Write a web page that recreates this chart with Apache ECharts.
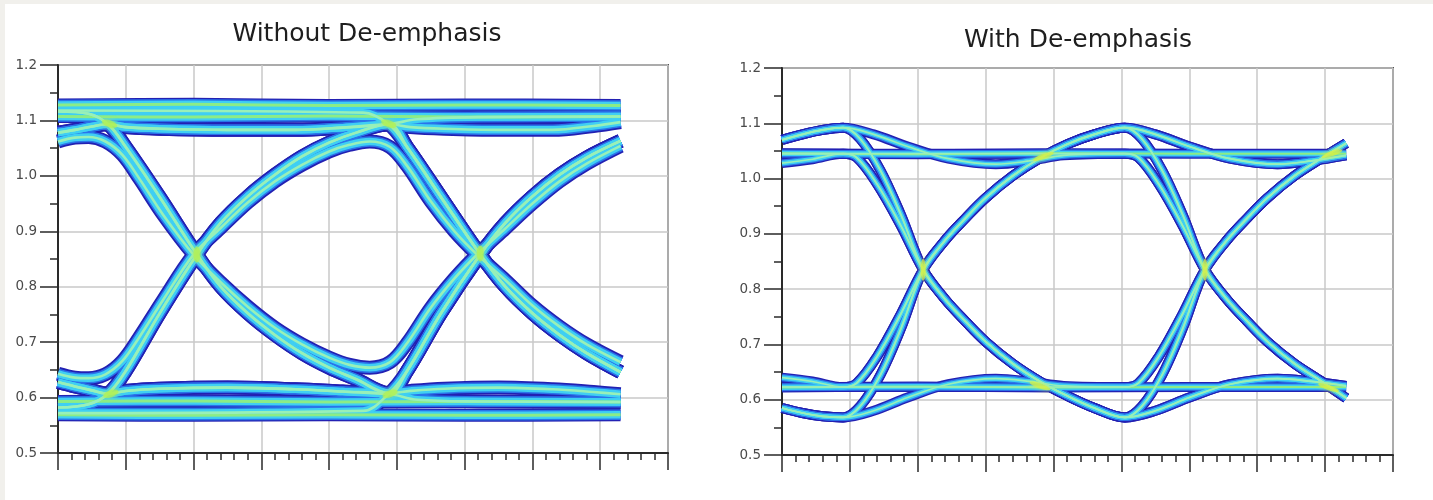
<!DOCTYPE html>
<html><head><meta charset="utf-8">
<script src="https://cdn.jsdelivr.net/npm/echarts@6/dist/echarts.min.js"></script>
<style>
html,body{margin:0;padding:0;background:#f1f0ec;width:1433px;height:500px;overflow:hidden}
#panel{position:absolute;left:5px;top:4px;right:0;bottom:0;background:#fff}
#c{position:absolute;left:0;top:0;width:1433px;height:500px}
</style></head>
<body><div id="panel"></div><div id="c"></div>
<script>
// ---------- titles / ticks ----------
const titles = ['Without De-emphasis', 'With De-emphasis'];
const yTicks = [0.5, 0.6, 0.7, 0.8, 0.9, 1.0, 1.1, 1.2];

// ---------- LEFT: Without De-emphasis (x in grid divisions, y in V) ----------
const L_hiA = [[0,1.128],[2,1.129],[4,1.127],[6,1.128],[8.3,1.127]];
const L_hiB = [[0,1.107],[2,1.106],[4,1.108],[6,1.106],[8.3,1.107]];
const L_loA = [[0,0.593],[2,0.594],[4,0.592],[6,0.593],[8.3,0.592]];
const L_loB = [[0,0.569],[2,0.568],[4,0.569],[6,0.568],[8.3,0.569]];
// before first transition
const L_preH = [[0,1.116],[0.45,1.112]];
const L_preL = [[0,0.582],[0.45,0.588]];
const L_preRise = [[0,1.078],[0.25,1.083],[0.5,1.089]];
const L_preFall = [[0,0.628],[0.25,0.620],[0.5,0.613]];
const L_preArcH = [[0,1.062],[0.25,1.069],[0.45,1.070]];
const L_preArcL = [[0,0.643],[0.25,0.636],[0.45,0.635]];
// first bit
const L_fall1 = [[0.74,1.093],[1.0,1.052],[1.5,0.962],[2.05,0.858],[2.4,0.800],[2.8,0.752],[3.2,0.713],[3.6,0.680],[4.0,0.654],[4.4,0.633],[4.88,0.608]];
const L_rise1 = [[0.74,0.607],[1.0,0.648],[1.5,0.752],[2.05,0.858],[2.4,0.915],[2.8,0.963],[3.2,1.002],[3.6,1.035],[4.0,1.060],[4.4,1.078],[4.88,1.093]];
const L_sag1 = [[0.74,1.093],[1.0,1.088],[1.5,1.085],[2.5,1.083],[3.5,1.083],[4.2,1.087],[4.88,1.093]];
const L_hump1 = [[0.74,0.607],[1.0,0.612],[1.5,0.616],[2.5,0.618],[3.5,0.615],[4.2,0.611],[4.88,0.607]];
const L_arcFall1 = [[0.7,1.062],[0.95,1.038],[1.2,0.995],[1.55,0.930],[2.0,0.858],[2.4,0.808],[2.8,0.764],[3.2,0.726],[3.6,0.696],[4.0,0.672],[4.3,0.659],[4.6,0.654]];
const L_arcRise1 = [[0.7,0.642],[0.95,0.666],[1.2,0.709],[1.55,0.776],[2.0,0.858],[2.4,0.906],[2.8,0.952],[3.2,0.990],[3.6,1.020],[4.0,1.044],[4.3,1.056],[4.6,1.062]];
const L_holdH = [[0,1.118],[4.5,1.114],[4.88,1.093]];
const L_holdL = [[0,0.572],[4.5,0.576],[4.88,0.607]];
// second bit
const L_fall2 = [[5.15,1.052],[5.65,0.962],[6.23,0.858],[6.6,0.800],[7.0,0.752],[7.4,0.713],[7.8,0.680],[8.3,0.646]];
const L_rise2 = [[5.15,0.648],[5.65,0.752],[6.23,0.858],[6.6,0.915],[7.0,0.963],[7.4,1.002],[7.8,1.033],[8.3,1.063]];
const L_sag2 = [[5.2,1.088],[5.7,1.085],[6.5,1.083],[7.3,1.083],[7.9,1.090],[8.3,1.097]];
const L_hump2 = [[5.2,0.612],[5.7,0.616],[6.5,0.618],[7.3,0.615],[7.9,0.610],[8.3,0.606]];
const L_arcUp2 = [[4.9,0.664],[5.15,0.698],[5.5,0.762],[5.85,0.815],[6.2,0.860],[6.6,0.905],[7.0,0.950],[7.4,0.990],[7.8,1.022],[8.3,1.054]];
const L_arcDown2 = [[4.9,1.052],[5.15,1.018],[5.5,0.954],[5.85,0.900],[6.2,0.856],[6.6,0.812],[7.0,0.766],[7.4,0.728],[7.8,0.696],[8.3,0.664]];
const L_settleH2 = [[5.3,1.102],[6.2,1.106],[8.3,1.107]];
const L_settleL2 = [[5.3,0.596],[6.2,0.593],[8.3,0.592]];
// dense (hot) spots: [x, y, angle]
const L_hot = [[2.05,0.858,90],[6.23,0.860,90],[0.76,1.094,-20],[4.88,1.094,-20],[0.78,0.607,20],[4.9,0.607,20]];

// ---------- RIGHT: With De-emphasis ----------
const R_flatH = [[0,1.046],[2,1.044],[4,1.046],[6,1.045],[8.31,1.045]];
const R_flatL = [[0,0.622],[2,0.624],[4,0.622],[6,0.623],[8.31,0.623]];
const R_preH = [[0,1.045]];
const R_preL = [[0,0.623]];
const R_tailRise = [[0,1.070],[0.3,1.080],[0.6,1.088]];
const R_tailFall = [[0,0.585],[0.3,0.576],[0.6,0.570]];
const R_decayH0 = [[0,1.028],[0.45,1.035]];
const R_decayL0 = [[0,0.640],[0.45,0.633]];
const R_fallP1 = [[0.9,1.092],[1.15,1.072],[1.45,1.015],[1.75,0.935],[2.08,0.835],[2.4,0.782],[2.7,0.742],[3.0,0.705],[3.4,0.665],[3.8,0.633],[4.2,0.607],[4.6,0.585],[5.05,0.568]];
const R_fallF1 = [[0.9,1.045],[1.1,1.038],[1.4,0.990],[1.75,0.915],[2.08,0.835],[2.4,0.782],[2.7,0.742],[3.0,0.705],[3.4,0.665],[3.8,0.633],[4.2,0.607],[4.6,0.585],[5.05,0.568]];
const R_riseT1 = [[0.9,0.568],[1.15,0.588],[1.45,0.645],[1.75,0.728],[2.08,0.835],[2.4,0.888],[2.7,0.928],[3.0,0.965],[3.4,1.005],[3.8,1.037],[4.2,1.062],[4.6,1.080],[5.05,1.092]];
const R_riseF1 = [[0.9,0.623],[1.1,0.630],[1.4,0.678],[1.75,0.755],[2.08,0.835],[2.4,0.888],[2.7,0.928],[3.0,0.965],[3.4,1.005],[3.8,1.037],[4.2,1.062],[4.6,1.080],[5.05,1.092]];
const R_peakDecay1 = [[0.9,1.092],[1.35,1.080],[1.85,1.058],[2.45,1.036],[3.15,1.026],[3.65,1.032],[4.15,1.042],[5.05,1.045]];
const R_troughDecay1 = [[0.9,0.568],[1.35,0.580],[1.85,0.604],[2.45,0.628],[3.15,0.638],[3.65,0.633],[4.15,0.625],[5.05,0.623]];
const R_fallP2 = [[5.05,1.092],[5.3,1.072],[5.6,1.015],[5.9,0.935],[6.23,0.835],[6.55,0.782],[6.85,0.742],[7.15,0.705],[7.55,0.665],[7.95,0.633],[8.31,0.603]];
const R_fallF2 = [[5.05,1.045],[5.25,1.038],[5.55,0.990],[5.9,0.915],[6.23,0.835],[6.55,0.782],[6.85,0.742],[7.15,0.705],[7.55,0.665],[7.95,0.633],[8.31,0.603]];
const R_riseT2 = [[5.05,0.568],[5.3,0.588],[5.6,0.645],[5.9,0.728],[6.23,0.835],[6.55,0.888],[6.85,0.928],[7.15,0.965],[7.55,1.005],[7.95,1.037],[8.31,1.064]];
const R_riseF2 = [[5.05,0.623],[5.25,0.630],[5.55,0.678],[5.9,0.755],[6.23,0.835],[6.55,0.888],[6.85,0.928],[7.15,0.965],[7.55,1.005],[7.95,1.037],[8.31,1.064]];
const R_peakDecay2 = [[5.5,1.080],[6.0,1.058],[6.6,1.036],[7.3,1.026],[7.8,1.032],[8.31,1.042]];
const R_troughDecay2 = [[5.5,0.580],[6.0,0.604],[6.6,0.628],[7.3,0.638],[7.8,0.633],[8.31,0.625]];
const R_hot = [[3.85,1.040,20],[8.1,1.045,20],[3.8,0.625,-20],[8.05,0.622,-20],[2.08,0.835,90],[6.23,0.835,90]];

// ---------- build traces (waveforms) from the named pieces ----------
const cat = (...a) => [].concat(...a);
const leftTraces = [
  [L_hiA,'flat'],[L_hiB,'flat'],[L_loA,'flat'],[L_loB,'flat'],
  [cat(L_preH, L_fall1, L_hump2),'tr'],
  [cat(L_preH, L_fall1, L_rise2),'tr'],
  [cat(L_preL, L_rise1, L_sag2),'tr'],
  [cat(L_preL, L_rise1, L_fall2),'tr'],
  [cat(L_preArcH, L_arcFall1, L_arcUp2),'tr'],
  [cat(L_preArcL, L_arcRise1, L_arcDown2),'tr'],
  [cat(L_preRise, L_sag1, L_settleH2),'tr'],
  [cat(L_preFall, L_hump1, L_settleL2),'tr'],
  [cat(L_holdH, L_fall2),'tr'],
  [cat(L_holdL, L_rise2),'tr'],
  [cat(L_preRise, L_sag1, L_fall2),'tr'],
  [cat(L_preFall, L_hump1, L_rise2),'tr']
];
const rightTraces = [
  [R_flatH,'flat'],[R_flatL,'flat'],
  [cat(R_tailRise, R_fallP1, R_riseT2),'tr'],
  [cat(R_tailFall, R_riseT1, R_fallP2),'tr'],
  [cat(R_tailRise, R_peakDecay1, R_fallF2),'tr'],
  [cat(R_tailFall, R_troughDecay1, R_riseF2),'tr'],
  [cat(R_preH, R_fallF1, R_troughDecay2),'tr'],
  [cat(R_preL, R_riseF1, R_peakDecay2),'tr'],
  [cat(R_decayH0, R_fallF1, R_riseT2),'tr'],
  [cat(R_decayL0, R_riseF1, R_fallP2),'tr'],
  [cat(R_tailRise, R_fallP1, R_troughDecay2),'tr'],
  [cat(R_tailFall, R_riseT1, R_peakDecay2),'tr'],
  [cat(R_preH, R_fallF2),'tr'],
  [cat(R_preL, R_riseF2),'tr']
];

const layerColors = ['#2320b2', '#2a74ea', '#3fcff3'];
const coreColor = {flat:'#8cec86', tr:'#98f0b8'};
const leftWidths = {flat:[13,10.5,7.5,3], tr:[14,10.5,7.5,2.6]};
const rightWidths = {flat:[10,7.5,5,2], tr:[10,7.2,4.6,1.7]};

const series = [];
function addTraces(traces, g, widths) {
  for (let l = 0; l < 4; l++) {
    traces.forEach(([d, kind]) => {
      series.push({
        type: 'line', xAxisIndex: g, yAxisIndex: g, data: d,
        symbol: 'none', smooth: 0.35, silent: true, animation: false,
        lineStyle: {width: widths[kind][l], color: l < 3 ? layerColors[l] : coreColor[kind], cap: 'butt', join: 'round'},
        z: 2 + l
      });
    });
  }
}
addTraces(leftTraces, 0, leftWidths);
addTraces(rightTraces, 1, rightWidths);

function addHot(spots, g, size, color) {
  series.push({
    type: 'scatter', xAxisIndex: g, yAxisIndex: g, silent: true, animation: false, z: 7,
    data: spots.map(s => ({value: [s[0], s[1]], symbolRotate: s[2]})),
    symbol: 'circle', symbolSize: size,
    itemStyle: {color: color, opacity: 0.7, shadowBlur: 5, shadowColor: color}
  });
}
addHot(L_hot, 0, [16, 7], '#b4f050');
addHot(R_hot, 1, [22, 5], '#d8f040');

const gridPos = [
  {left: 58, top: 65, width: 610, height: 388},
  {left: 782, top: 68, width: 611, height: 387}
];
function xAx(i) {
  return {
    gridIndex: i, type: 'value', min: 0, max: 9, interval: 1,
    axisLabel: {show: false},
    axisLine: {show: true, onZero: false, lineStyle: {color: '#2a2a2a', width: 2}},
    axisTick: {show: true, inside: false, length: 17, lineStyle: {color: '#2a2a2a', width: 1.5}},
    minorTick: {show: true, splitNumber: 5, length: 7, lineStyle: {color: '#2a2a2a', width: 1.5}},
    splitLine: {show: true, lineStyle: {color: '#c9c9c9', width: 1.5}}
  };
}
function yAx(i) {
  return {
    gridIndex: i, type: 'value', min: yTicks[0], max: yTicks[yTicks.length-1], interval: 0.1,
    axisLabel: {show: true, margin: 21, color: '#4a4a4a', fontFamily: 'DejaVu Sans', fontSize: 13.5,
      formatter: v => v.toFixed(1)},
    axisLine: {show: true, onZero: false, lineStyle: {color: '#2a2a2a', width: 2}},
    axisTick: {show: true, inside: false, length: 18, lineStyle: {color: '#2a2a2a', width: 1.5}},
    minorTick: {show: true, splitNumber: 2, length: 8, lineStyle: {color: '#2a2a2a', width: 1.5}},
    splitLine: {show: true, lineStyle: {color: '#c9c9c9', width: 1.5}}
  };
}

const chart = echarts.init(document.getElementById('c'), null, {renderer: 'canvas'});
chart.setOption({
  animation: false,
  backgroundColor: 'transparent',
  grid: gridPos.map(p => Object.assign({show: true, borderColor: '#555', borderWidth: 2, backgroundColor: 'transparent'}, p)),
  xAxis: [xAx(0), xAx(1)],
  yAxis: [yAx(0), yAx(1)],
  graphic: [
    {type: 'text', x: 367, y: 22, style: {text: titles[0], font: '25px "DejaVu Sans"', fill: '#1e1e1e', textAlign: 'center', textVerticalAlign: 'top', verticalAlign: 'top'}},
    {type: 'text', x: 1078, y: 28, style: {text: titles[1], font: '25px "DejaVu Sans"', fill: '#1e1e1e', textAlign: 'center', textVerticalAlign: 'top', verticalAlign: 'top'}}
  ],
  series: series
});
</script></body></html>
